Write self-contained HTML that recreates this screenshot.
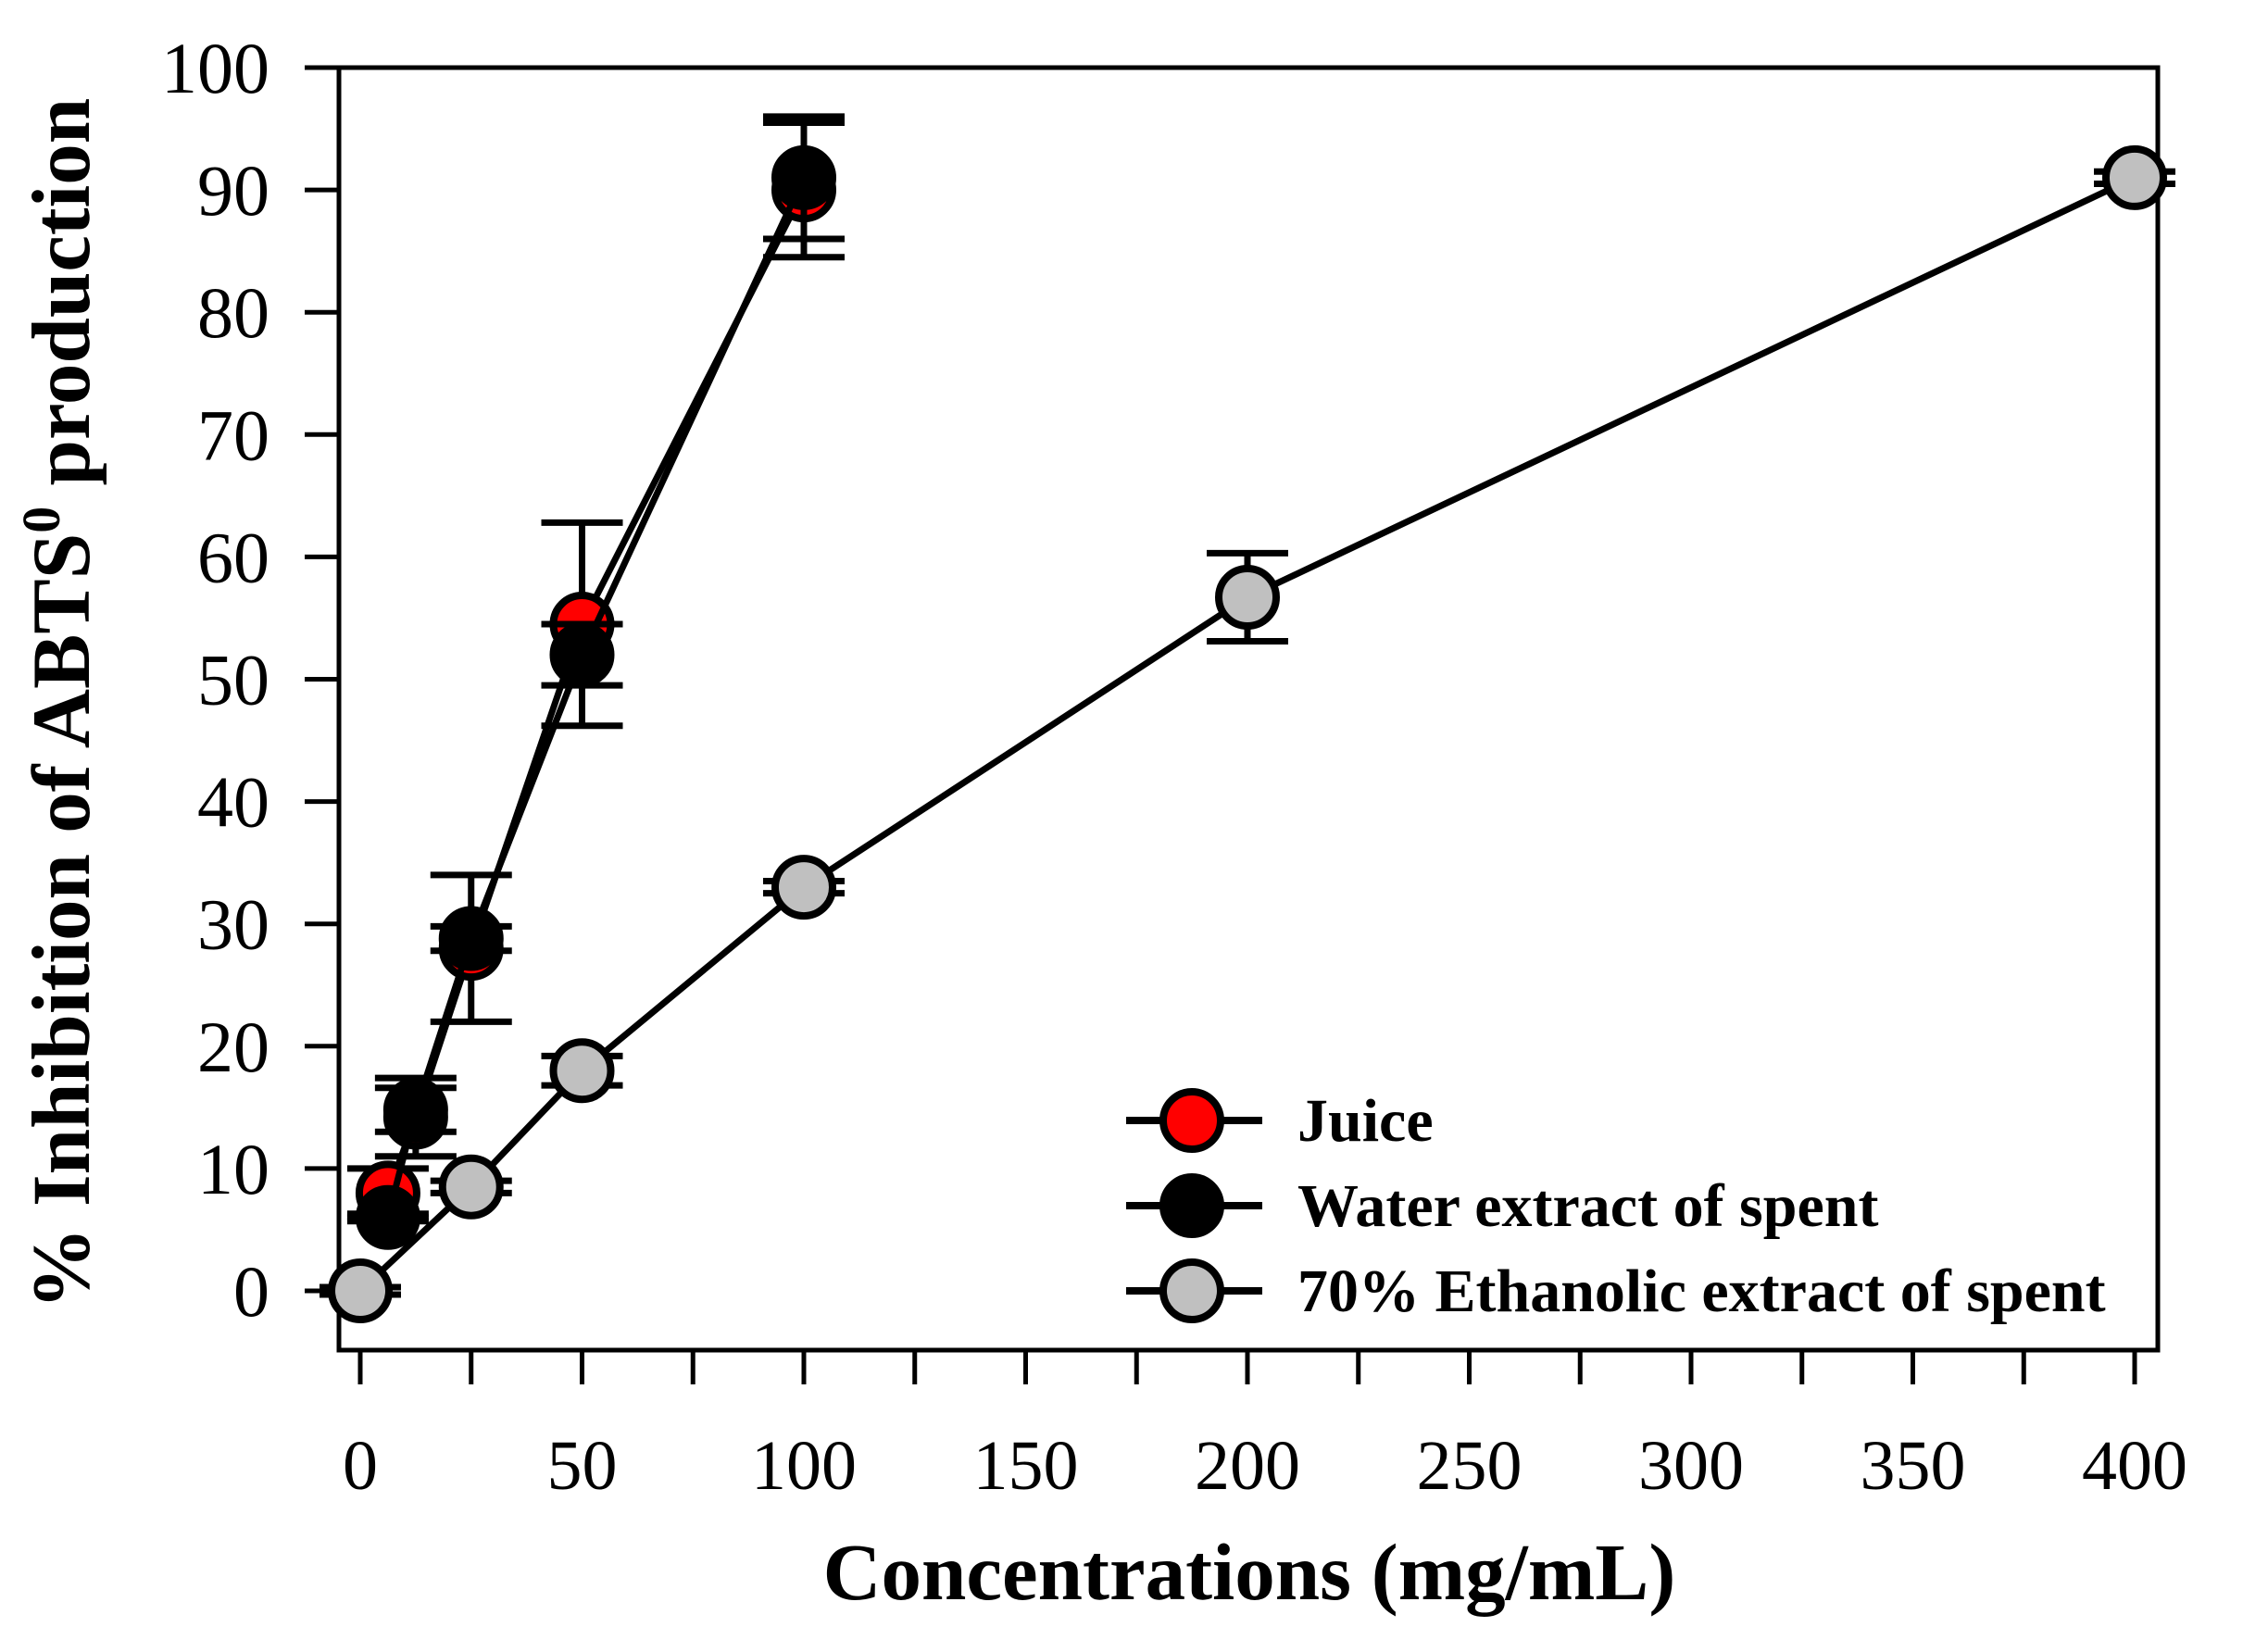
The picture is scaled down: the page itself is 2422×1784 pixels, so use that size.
<!DOCTYPE html>
<html><head><meta charset="utf-8"><style>
html,body{margin:0;padding:0;background:#fff;}
svg{display:block;font-family:"Liberation Serif",serif;}
</style></head><body>
<svg id="chart" width="2422" height="1784" viewBox="0 0 2422 1784">
<g id="axes"></g>
<g id="series"></g>
<g id="legend"></g>
<text x="1349" y="1727" font-size="87" font-weight="bold" text-anchor="middle">Concentrations (mg/mL)</text>
<text transform="translate(96,760) rotate(-90)" font-size="89" font-weight="bold" text-anchor="middle">% Inhibition of ABTS<tspan dy="-32" font-size="58">0</tspan><tspan dy="32"> production</tspan></text>
</svg>
<script>
const juiceX=[6.25,12.5,25,50,100];
const juiceY=[8,14.2,28,54.5,90];
const juiceErr=[2,3.2,6,8.3,5.5];
const waterX=[6.25,12.5,25,50,100];
const waterY=[6,14.8,28.8,52,91];
const waterErr=[0.3,1.8,1,2.5,5];
const ethX=[0,25,50,100,200,400];
const ethY=[0,8.5,18,33,56.7,91];
const ethErr=[0.3,0.5,1.2,0.5,3.6,0.5];
const xTicks=[0,50,100,150,200,250,300,350,400];
const yTicks=[0,10,20,30,40,50,60,70,80,90,100];

const NS="http://www.w3.org/2000/svg";
const PL=366,PR=2330,PT=73,PB=1458;
const X=v=>389+(2305-389)*v/400;
const Y=v=>1394-(1394-73)*v/100;
function mk(tag,attrs,parent){const e=document.createElementNS(NS,tag);for(const k in attrs)e.setAttribute(k,attrs[k]);parent.appendChild(e);return e;}
const axes=document.getElementById('axes');
let frame=mk('rect',{x:PL,y:PT,width:PR-PL,height:PB-PT,fill:'none',stroke:'#000','stroke-width':5},axes);


yTicks.forEach(t=>{
  let l=mk('line',{x1:329,x2:PL,y1:Y(t),y2:Y(t),stroke:'#000','stroke-width':5},axes);
  
  
  let tx=mk('text',{x:291,y:Y(t)+27,'font-size':78,'text-anchor':'end'},axes);tx.textContent=t;
  
  
});
for(let v=0;v<=400;v+=25){
  let l=mk('line',{x1:X(v),x2:X(v),y1:PB,y2:PB+37,stroke:'#000','stroke-width':5},axes);
  
  
}
xTicks.forEach(t=>{
  let tx=mk('text',{x:X(t),y:1608,'font-size':76,'text-anchor':'middle'},axes);tx.textContent=t;
  
  
});
const ser=document.getElementById('series');
function drawSeries(name,xs,ys,es,fill){
  const g=mk('g',{},ser);
  
  
  let p=mk('polyline',{points:xs.map((x,i)=>X(x)+','+Y(ys[i])).join(' '),fill:'none',stroke:'#000','stroke-width':7},g);
  
  
  xs.forEach((x,i)=>{
    const cx=X(x),t=Y(ys[i]+es[i]),b=Y(ys[i]-es[i]);
    let e=mk('path',{d:`M${cx},${t}V${b}M${cx-44},${t}H${cx+44}M${cx-44},${b}H${cx+44}`,stroke:'#000','stroke-width':7,fill:'none'},g);
    
    
  });
  xs.forEach((x,i)=>{
    let c=mk('circle',{cx:X(x),cy:Y(ys[i]),r:31,fill:fill,stroke:'#000','stroke-width':8},g);
    
    
  });
}
drawSeries('ethanolic',ethX,ethY,ethErr,'#c0c0c0');
drawSeries('juice',juiceX,juiceY,juiceErr,'#ff0000');
drawSeries('water',waterX,waterY,waterErr,'#000000');
const leg=document.getElementById('legend');
[['Juice','#ff0000',1210],['Water extract of spent','#000000',1302],['70% Ethanolic extract of spent','#c0c0c0',1394]].forEach(([lab,f,y])=>{
  const g=mk('g',{},leg);
  
  
  mk('line',{x1:1216,x2:1363,y1:y,y2:y,stroke:'#000','stroke-width':8},g);
  mk('circle',{cx:1287,cy:y,r:31,fill:f,stroke:'#000','stroke-width':8},g);
  let t=mk('text',{x:1401,y:y+22,'font-size':66,'font-weight':'bold'},g);t.textContent=lab;
});
</script>
</body></html>
